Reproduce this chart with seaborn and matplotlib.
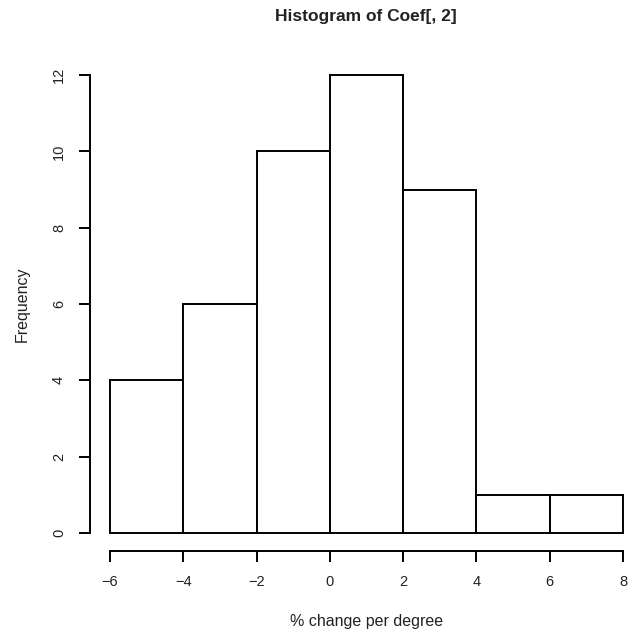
import matplotlib
matplotlib.use("Agg")
import matplotlib.pyplot as plt
import seaborn as sns
import numpy as np

bin_edges = [-6, -4, -2, 0, 2, 4, 6, 8]
counts = [4, 6, 10, 12, 9, 1, 1]
x_ticks = [-6, -4, -2, 0, 2, 4, 6, 8]
y_ticks = [0, 2, 4, 6, 8, 10, 12]
title = "Histogram of Coef[, 2]"
xlabel = "% change per degree"
ylabel = "Frequency"

sns.set_style("white")
plt.rcParams['font.family'] = ['Liberation Sans', 'DejaVu Sans']

W, H = 631, 633
fig = plt.figure(figsize=(W / 100, H / 100), dpi=100)
left_px, right_px = 89.5, 643.5
top_px, bot_px = 56.7, 551.3
ax = fig.add_axes([left_px / W, 1 - bot_px / H, (right_px - left_px) / W, (bot_px - top_px) / H])

centers = [(bin_edges[i] + bin_edges[i + 1]) / 2 for i in range(len(counts))]
sns.histplot(x=centers, weights=counts, bins=bin_edges, ax=ax,
             color="white", edgecolor="black", linewidth=1.4, alpha=1)

ax.set_xlim(-6.56, 8.56)
ax.set_ylim(-0.48, 12.48)
for s in ["top", "right"]:
    ax.spines[s].set_visible(False)
for s in ["left", "bottom"]:
    ax.spines[s].set_color("black")
    ax.spines[s].set_linewidth(1.4)
ax.spines["left"].set_bounds(0, 12)
ax.spines["bottom"].set_bounds(-6, 8)
ax.set_xticks(x_ticks)
ax.set_yticks(y_ticks)
ax.tick_params(axis="both", direction="out", length=8, width=1.4, color="black",
               labelsize=10.5, labelcolor="#222222", pad=9, left=True, bottom=True)
for lab in ax.get_yticklabels():
    lab.set_rotation(90)
    lab.set_va("center")
ax.set_xticklabels([str(v).replace("-", "\u2212") for v in x_ticks])
ax.set_xlabel(xlabel, fontsize=11.5, labelpad=18, color="#222222")
ax.set_ylabel(ylabel, fontsize=11.5, labelpad=16, color="#222222")
fig.text(366 / W, 1 - 17 / H, title, ha="center", va="center", fontsize=12.5, fontweight="bold", color="#222222")
ax.grid(False)

fig.savefig("out.png", dpi=100)
